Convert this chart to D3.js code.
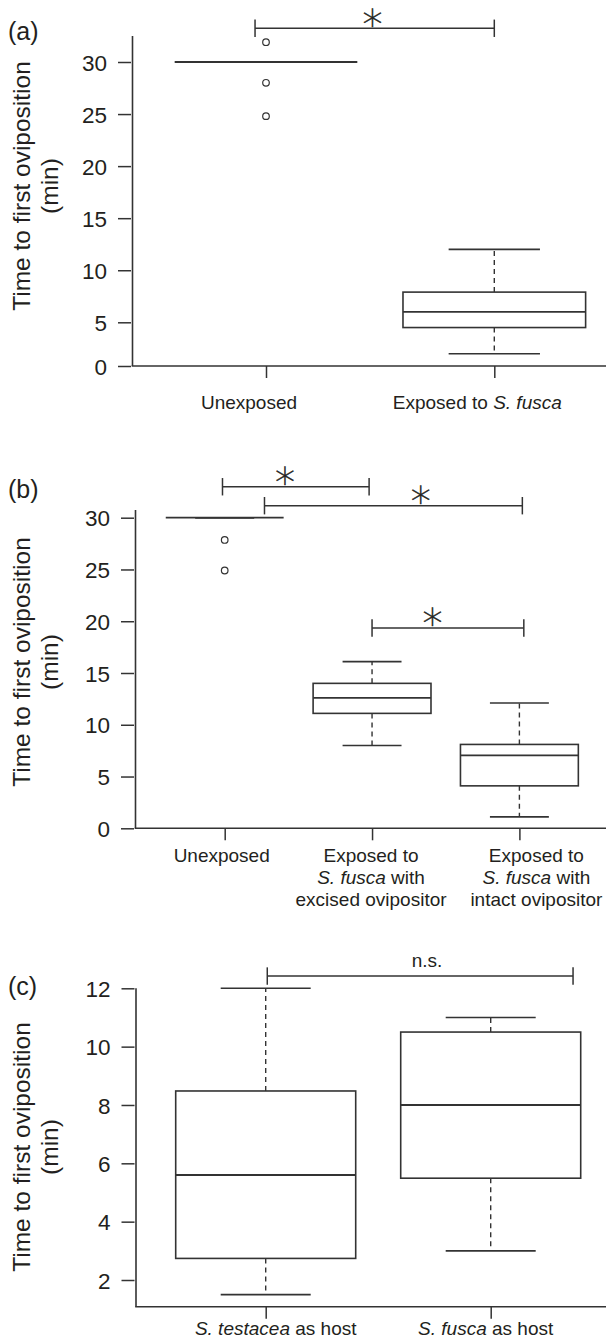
<!DOCTYPE html>
<html><head><meta charset="utf-8">
<script src="https://cdn.jsdelivr.net/npm/d3@7"></script>
<style>
body{margin:0;background:#fff}
svg{display:block}
text{font-family:"Liberation Sans",Arial,Helvetica,sans-serif;fill:#231f20}
</style>
</head><body>
<svg id="chart" width="611" height="1340"></svg>
<script>
// ---------------- DATA ----------------
// Panel (a)
const catsA   = [["Unexposed"], ["Exposed to _S. fusca_"]];
const loA     = [30, 1.4];
const q1A     = [30, 4.4];
const medA    = [30, 6.0];
const q3A     = [30, 7.9];
const hiA     = [30, 12.0];
const outA    = [[31.9, 28.0, 24.8], []];
const ticksA  = [0, 5, 10, 15, 20, 25, 30];
const sigA    = [{from: 0.952, to: 2.0, at: 33.24, mark: "*", pos: 1.467}];

// Panel (b)
const catsB   = [["Unexposed"],
                 ["Exposed to", "_S. fusca_ with", "excised ovipositor"],
                 ["Exposed to", "_S. fusca_ with", "intact ovipositor"]];
const loB     = [30, 8.0, 1.1];
const q1B     = [30, 11.1, 4.1];
const medB    = [30, 12.6, 7.05];
const q3B     = [30, 14.0, 8.1];
const hiB     = [30, 16.1, 12.1];
const outB    = [[27.85, 24.9], [], []];
const ticksB  = [0, 5, 10, 15, 20, 25, 30];
const sigB    = [{from: 0.985, to: 1.98, at: 32.99, mark: "*", pos: 1.41},
                 {from: 1.27,  to: 3.02, at: 31.16, mark: "*", pos: 2.33},
                 {from: 2.0,   to: 3.03, at: 19.35, mark: "*", pos: 2.41}];

// Panel (c)
const catsC   = [["_S. testacea_ as host"], ["_S. fusca_ as host"]];
const loC     = [1.5, 3.0];
const q1C     = [2.74, 5.49];
const medC    = [5.6, 8.0];
const q3C     = [8.48, 10.5];
const hiC     = [12.0, 11.0];
const outC    = [[], []];
const ticksC  = [2, 4, 6, 8, 10, 12];
const sigC    = [{from: 1.007, to: 2.366, at: 12.42, mark: "n.s.", pos: 1.717}];

const yTitle  = ["Time to first oviposition", "(min)"];
const panelTags = ["(a)", "(b)", "(c)"];

// ---------------- LAYOUT ----------------
const LINE = "#333";
const svg = d3.select("#chart");

const panels = [
  {tag: panelTags[0], tagY: 40, cats: catsA, lo: loA, q1: q1A, med: medA, q3: q3A, hi: hiA, out: outA, ticks: ticksA, sig: sigA,
   x: d3.scaleLinear().domain([1, 2]).range([266, 494.3]),
   y: d3.scaleLinear().domain([0, 5, 30]).range([366, 322.3, 62]),
   axisX: 132.5, top: 36, base: 0, right: 606, labelY: 409, nudge: [-17, -17], titleY: 186},
  {tag: panelTags[1], tagY: 498, cats: catsB, lo: loB, q1: q1B, med: medB, q3: q3B, hi: hiB, out: outB, ticks: ticksB, sig: sigB,
   x: d3.scaleLinear().domain([1, 3]).range([224.7, 519.4]),
   y: d3.scaleLinear().domain([0, 30]).range([828.3, 517.7]),
   axisX: 135.5, top: 510, base: 0, right: 606, labelY: 861.7, nudge: [-3, -1, 17], titleY: 662},
  {tag: panelTags[2], tagY: 995, cats: catsC, lo: loC, q1: q1C, med: medC, q3: q3C, hi: hiC, out: outC, ticks: ticksC, sig: sigC,
   x: d3.scaleLinear().domain([1, 2]).range([265.7, 490.7]),
   y: d3.scaleLinear().domain([2, 12]).range([1280, 988.3]),
   axisX: 136, top: 988.3, base: 1.085, right: 606, labelY: 1335.3, nudge: [10, -5], titleY: 1147}
];

function rich(sel, str) {
  str.split("_").forEach((p, i) => {
    if (p) sel.append("tspan").attr("font-style", i % 2 ? "italic" : "normal").text(p);
  });
}

panels.forEach(P => {
  const g = svg.append("g");
  const x = P.x, y = P.y;
  const step = x(2) - x(1);
  const bw = step * 0.8;
  const yb = y(P.base);

  // panel tag
  g.append("text").attr("x", 8).attr("y", P.tagY).attr("font-size", 25).text(P.tag);

  // y title (two lines, rotated)
  const t = g.append("text").attr("transform", `translate(0,${P.titleY}) rotate(-90)`)
    .attr("text-anchor", "middle").attr("font-size", 24.5);
  t.append("tspan").attr("x", 0).attr("y", 29.5).text(yTitle[0]);
  t.append("tspan").attr("x", 0).attr("y", 58).text(yTitle[1]);

  // axis lines
  g.append("line").attr("x1", P.axisX).attr("x2", P.axisX).attr("y1", P.top).attr("y2", yb)
    .attr("stroke", LINE).attr("stroke-width", 1.6);
  g.append("line").attr("x1", P.axisX - 0.8).attr("x2", P.right).attr("y1", yb).attr("y2", yb)
    .attr("stroke", LINE).attr("stroke-width", 1.6);

  // y ticks
  const ya = d3.axisLeft(y).tickValues(P.ticks).tickSize(13).tickPadding(11).tickFormat(d3.format("d"));
  const yg = g.append("g").attr("transform", `translate(${P.axisX - 1.5},0)`).call(ya);
  yg.select(".domain").remove();
  yg.selectAll(".tick line").attr("stroke", LINE).attr("stroke-width", 1.5);
  yg.selectAll(".tick text").attr("font-size", 22.5).attr("dy", "0.36em");

  // x ticks
  const cidx = P.cats.map((c, i) => i + 1);
  const xa = d3.axisBottom(x).tickValues(cidx).tickSize(12).tickFormat("");
  const xg = g.append("g").attr("transform", `translate(0,${yb})`).call(xa);
  xg.select(".domain").remove();
  xg.selectAll(".tick line").attr("stroke", LINE).attr("stroke-width", 1.5);

  // x labels
  P.cats.forEach((lines, i) => {
    const tx = g.append("text").attr("text-anchor", "middle").attr("font-size", 19);
    lines.forEach((ln, k) => {
      const ts = tx.append("tspan").attr("x", x(i + 1) + P.nudge[i]).attr("y", P.labelY + k * 22);
      rich(ts, ln);
    });
  });

  // boxes
  cidx.forEach((c, i) => {
    const cx = x(c);
    const bg = g.append("g").attr("stroke", LINE).attr("fill", "none");
    bg.append("line").attr("x1", cx).attr("x2", cx).attr("y1", y(P.q3[i])).attr("y2", y(P.hi[i]))
      .attr("stroke-width", 1.4).attr("stroke-dasharray", "5,4");
    bg.append("line").attr("x1", cx).attr("x2", cx).attr("y1", y(P.q1[i])).attr("y2", y(P.lo[i]))
      .attr("stroke-width", 1.4).attr("stroke-dasharray", "5,4");
    [P.hi[i], P.lo[i]].forEach(v => {
      bg.append("line").attr("x1", cx - bw / 4).attr("x2", cx + bw / 4).attr("y1", y(v)).attr("y2", y(v))
        .attr("stroke-width", 1.6);
    });
    bg.append("rect").attr("x", cx - bw / 2).attr("width", bw)
      .attr("y", y(P.q3[i])).attr("height", Math.max(0, y(P.q1[i]) - y(P.q3[i])))
      .attr("stroke-width", 1.6);
    bg.append("line").attr("x1", cx - bw / 2).attr("x2", cx + bw / 2).attr("y1", y(P.med[i])).attr("y2", y(P.med[i]))
      .attr("stroke-width", 1.8);
    P.out[i].forEach(v => {
      bg.append("circle").attr("cx", cx).attr("cy", y(v)).attr("r", 3.3).attr("stroke-width", 1.2).attr("fill", "#fff");
    });
  });

  // significance brackets
  P.sig.forEach(s => {
    const by = y(s.at);
    const sg = g.append("g").attr("stroke", LINE).attr("stroke-width", 1.5);
    sg.append("line").attr("x1", x(s.from)).attr("x2", x(s.to)).attr("y1", by).attr("y2", by);
    [s.from, s.to].forEach(v => {
      sg.append("line").attr("x1", x(v)).attr("x2", x(v)).attr("y1", by - 8.7).attr("y2", by + 8.7);
    });
    if (s.mark === "n.s.") {
      g.append("text").attr("x", x(s.pos)).attr("y", by - 9).attr("text-anchor", "middle")
        .attr("font-size", 19).text(s.mark);
    } else {
      // glyph centre ~12.5px above the bracket
      g.append("text").attr("x", x(s.pos)).attr("y", by - 12.5 + 0.575 * 40).attr("text-anchor", "middle")
        .attr("font-size", 40).style("font-family", "'DejaVu Sans', sans-serif").style("font-weight", "200")
        .style("fill", "#231f20").style("stroke", "#231f20").style("stroke-width", "0.5").text(s.mark);
    }
  });
});
</script>
</body></html>
